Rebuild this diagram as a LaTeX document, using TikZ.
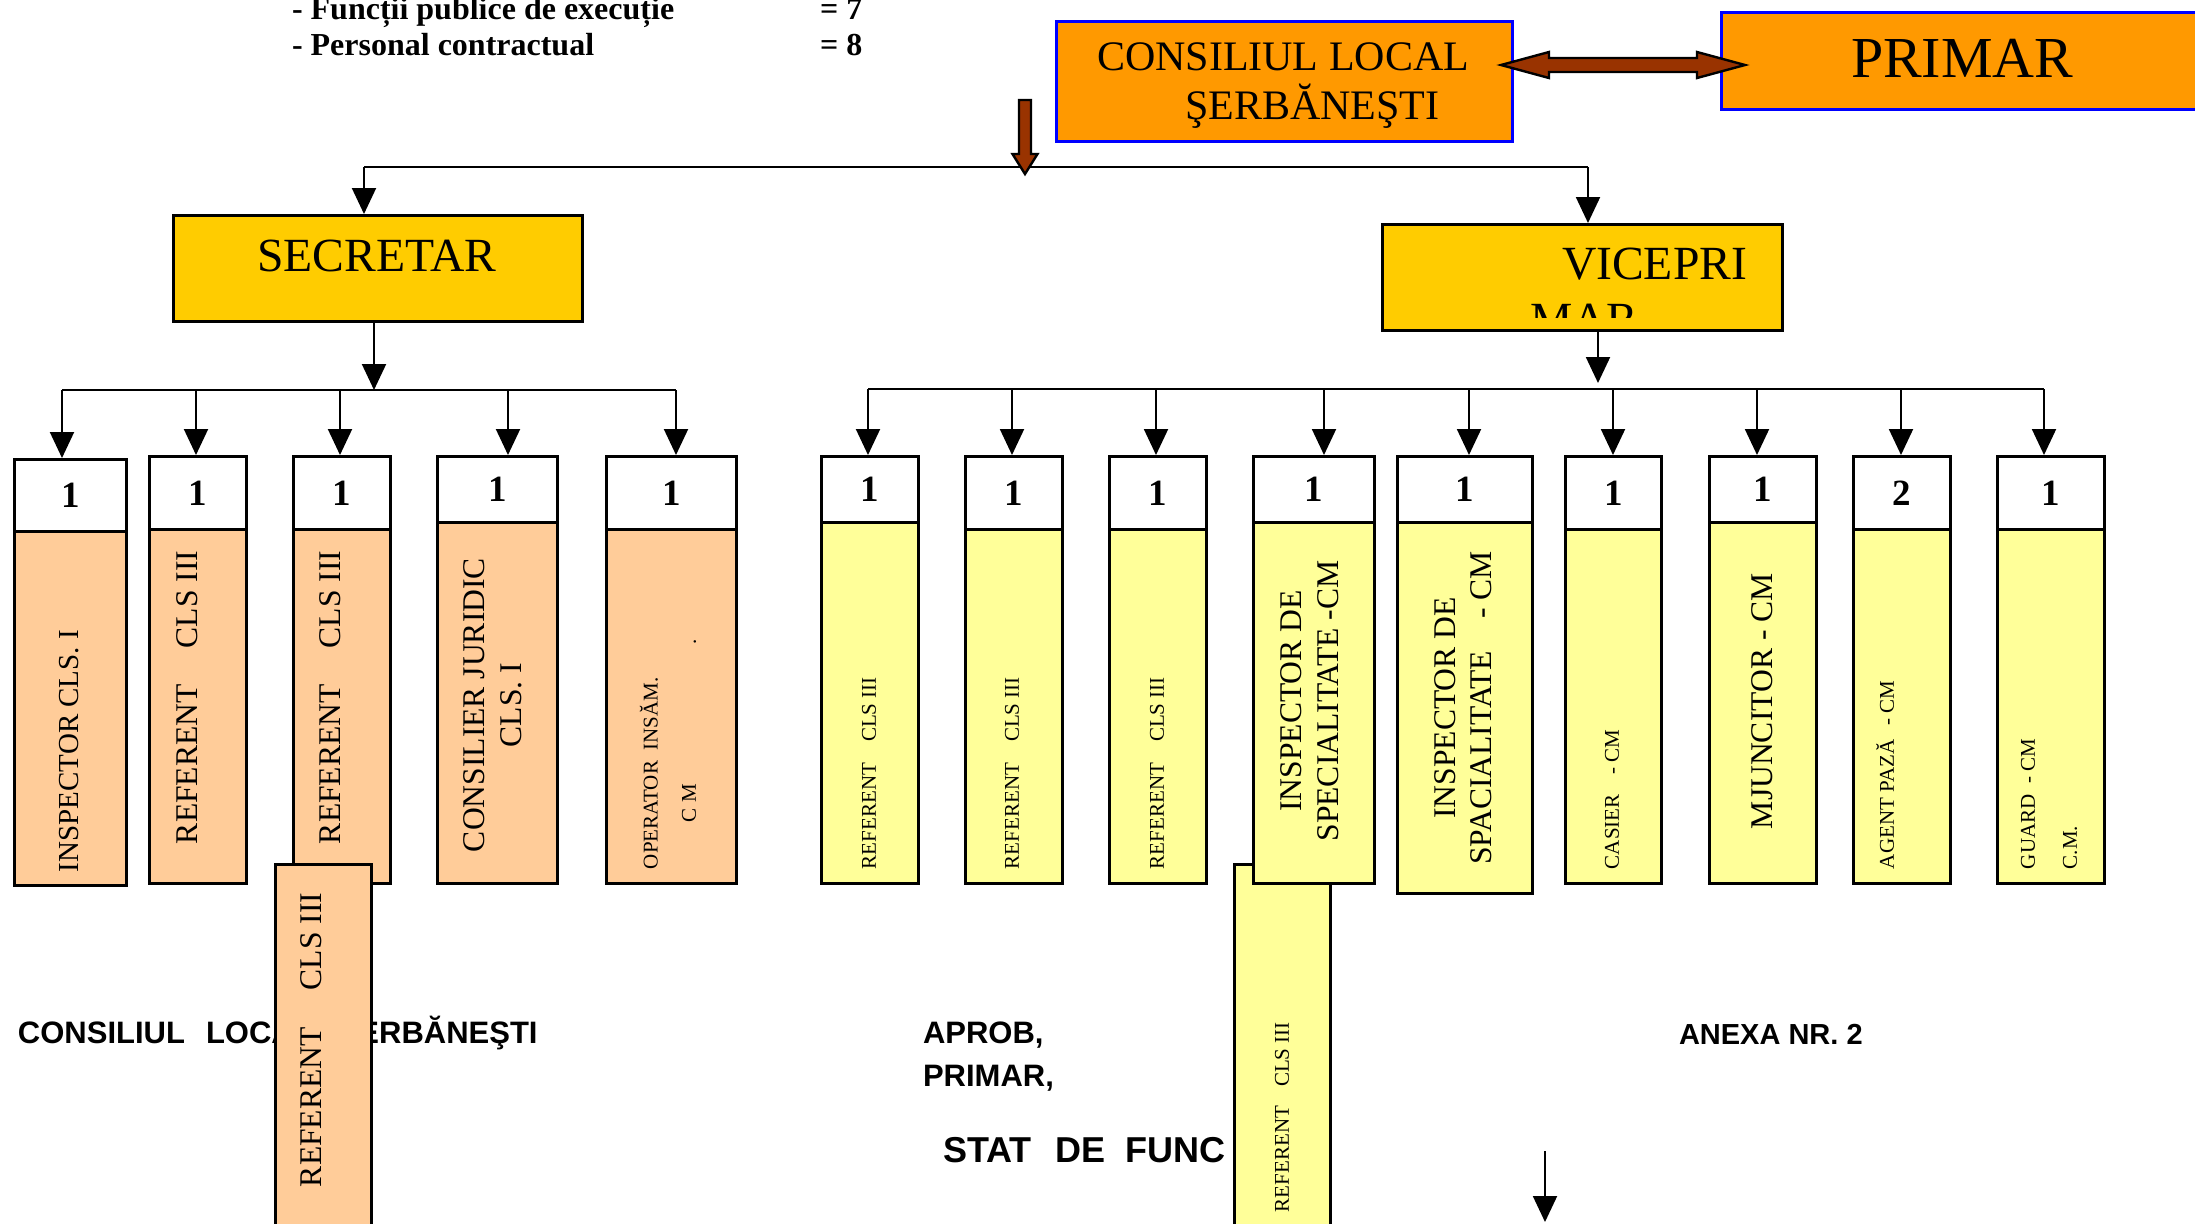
\documentclass[tikz,border=0pt]{standalone}
\usepackage{fontspec}
\setmainfont{Liberation Serif}
\setsansfont{Liberation Sans}
\usetikzlibrary{arrows.meta}

\tikzset{every picture/.style={line width=0.5pt}}
\tikzset{
	arr/.style={-{Triangle[width=6pt,length=6.5pt]}},
	brownarrow/.style={draw=black, line width=0.6pt, fill={rgb, 255:red, 153; green, 51; blue, 0 }},
	headbox/.style={draw, color={rgb, 255:red, 0; green, 0; blue, 255 }, fill={rgb, 255:red, 255; green, 153; blue, 0 }, line width=0.7pt, inner sep=0pt, anchor=north west},
	chiefbox/.style={draw, fill={rgb, 255:red, 255; green, 204; blue, 0 }, line width=0.75pt, inner sep=0pt, anchor=north west},
	numbox/.style={draw, fill=white, line width=0.75pt, inner sep=0pt, anchor=north west, font=\fontsize{9.25}{9.25}\selectfont\bfseries},
	peachbox/.style={draw, fill={rgb, 255:red, 255; green, 204; blue, 153 }, line width=0.75pt, inner sep=0pt, anchor=north west},
	lemonbox/.style={draw, fill={rgb, 255:red, 255; green, 255; blue, 153 }, line width=0.75pt, inner sep=0pt, anchor=north west},
	hdrtxt/.style={anchor=base west, inner sep=0pt, font=\fontsize{8}{9.6}\selectfont\bfseries},
	captxt/.style={anchor=base west, inner sep=0pt, font=\fontsize{#1}{#1}\selectfont},
	foottxt/.style={anchor=base west, inner sep=0pt, font=\sffamily\bfseries\fontsize{#1}{#1}\selectfont},
	foottxt/.default=7.75,
	bigtxt/.style={rotate=90, anchor=west, inner sep=0pt, font=\fontsize{#1}{9.25}\selectfont},
	bigtxt/.default=7.9,
	smalltxt/.style={rotate=90, anchor=west, inner sep=0pt, font=\fontsize{5.25}{6.3}\selectfont}
}

\begin{document}
\begin{tikzpicture}[x=0.25pt,y=0.25pt,yscale=-1]
	\useasboundingbox (0,0) rectangle (2195,1223);
	
	% Text Node
	\node [hdrtxt] (fpe) at (291,19) {- Funcții publice de execuție};
	\node [hdrtxt] (pc) at (291,55) {- Personal contractual};
	\node [hdrtxt] (eqa) at (819,19) {= 7};
	\node [hdrtxt] (eqb) at (819,55) {= 8};
	
	% Text Node
	\node [foottxt] (clfoot) at (17,1043) {CONSILIUL\hspace{5.25pt}LOCAL\hspace{6.25pt}ŞERBĂNEŞTI};
	\node [foottxt] (aprob) at (922,1043) {APROB,};
	\node [foottxt] (primfoot) at (922,1086) {PRIMAR,};
	\node [foottxt=9] (stat) at (942,1162) {STAT\hspace{6pt}DE\hspace{5pt}FUNC};
	\node [foottxt=7.25] (anexa) at (1678,1044) {ANEXA NR. 2};
	
	%Shape: Rectangle
	\node [headbox, minimum width=114pt, minimum height=30pt] (cl) at (1055,20) {};
	\node [headbox, minimum width=119.5pt, minimum height=24.25pt] (pr) at (1720,11) {};
	\node [chiefbox, minimum width=102.25pt, minimum height=26.5pt] (sec) at (172,214) {};
	\node [chiefbox, minimum width=100pt, minimum height=26.5pt] (vice) at (1381,223) {};
	
	% Text Node
	\node [captxt=10.5] (cltxta) at (1096,70) {CONSILIUL LOCAL};
	\node [captxt=10.5] (cltxtb) at (1184,119) {ŞERBĂNEŞTI};
	\node [captxt=14.5] (prtxt) at (1850,77) {PRIMAR};
	\node [captxt=11.9] (sectxt) at (256,271) {SECRETAR};
	\node [captxt=11.9] (vicetxta) at (1561,279) {VICEPRI};
	\begin{scope}
		\clip (1381,223) rectangle (1781,317);
		\node [captxt=11.9] (vicetxtb) at (1529,335) {MAR};
	\end{scope}
	
	%Double arrow: council - mayor
	\draw [brownarrow] (1501,65) -- (1549,52) -- (1549,58) -- (1697,58) -- (1697,52) -- (1745,65) -- (1697,78) -- (1697,72) -- (1549,72) -- (1549,78) -- cycle;
	
	%Straight Lines
	\coordinate (busL) at (364,167);
	\coordinate (busR) at (1588,167);
	\draw (busL) -- (busR);
	\draw [arr] (busL) -- (busL |- sec.north);
	\draw [arr] (busR) -- (busR |- vice.north);
	
	%Block arrow down
	\draw [brownarrow] (1019,100) -- (1031,100) -- (1031,154) -- (1037.5,154) -- (1025,174) -- (1012.5,154) -- (1019,154) -- cycle;
	
	%Shape: Rectangle (extra, behind)
	\node [lemonbox, minimum width=24pt, minimum height=92pt] (rx) at (1233,863) {};
	\node [smalltxt] (rxt) at (1282,1213) {REFERENT\hspace{4.75pt}CLS III};
	
	%Left group
	\node [numbox, minimum width=28pt, minimum height=18pt] (l1n) at (13,458) {1};
	\node [peachbox, minimum width=28pt, minimum height=88.5pt] (l1c) at (13,530) {};
	\node [numbox, minimum width=24.25pt, minimum height=18.25pt] (l2n) at (148,455) {1};
	\node [peachbox, minimum width=24.25pt, minimum height=88.5pt] (l2c) at (148,528) {};
	\node [numbox, minimum width=24.25pt, minimum height=18.25pt] (l3n) at (292,455) {1};
	\node [peachbox, minimum width=24.25pt, minimum height=88.5pt] (l3c) at (292,528) {};
	\node [numbox, minimum width=30pt, minimum height=16.5pt] (l4n) at (436,455) {1};
	\node [peachbox, minimum width=30pt, minimum height=90.25pt] (l4c) at (436,521) {};
	\node [numbox, minimum width=32.5pt, minimum height=18.25pt] (l5n) at (605,455) {1};
	\node [peachbox, minimum width=32.5pt, minimum height=88.5pt] (l5c) at (605,528) {};
	
	% Text Node
	\node [bigtxt=7.25] (l1t) at (69,873) {INSPECTOR CLS. I};
	\node [bigtxt] (l2t) at (187,845) {REFERENT\hspace{9pt}CLS III};
	\node [bigtxt] (l3t) at (330,845) {REFERENT\hspace{9pt}CLS III};
	\node [bigtxt, anchor=center, align=center] (l4t) at (493,705) {CONSILIER JURIDIC\\CLS. I};
	\node [smalltxt] (l5ta) at (649,870) {OPERATOR~~INSĂM.};
	\node [smalltxt] (l5tb) at (689,823) {C M\hspace{35pt}.};
	
	%Shape: Rectangle (extra, in front)
	\node [peachbox, minimum width=24pt, minimum height=92pt] (lx) at (274,863) {};
	\node [bigtxt] (lxt) at (311,1188) {REFERENT\hspace{9.25pt}CLS III};
	
	%Right group
	\node [numbox, minimum width=24.25pt, minimum height=16.5pt] (r1n) at (820,455) {1};
	\node [lemonbox, minimum width=24.25pt, minimum height=90.25pt] (r1c) at (820,521) {};
	\node [numbox, minimum width=24.25pt, minimum height=18.25pt] (r2n) at (964,455) {1};
	\node [lemonbox, minimum width=24.25pt, minimum height=88.5pt] (r2c) at (964,528) {};
	\node [numbox, minimum width=24.25pt, minimum height=18.25pt] (r3n) at (1108,455) {1};
	\node [lemonbox, minimum width=24.25pt, minimum height=88.5pt] (r3c) at (1108,528) {};
	\node [numbox, minimum width=30.25pt, minimum height=16.5pt] (r4n) at (1252,455) {1};
	\node [lemonbox, minimum width=30.25pt, minimum height=90.25pt] (r4c) at (1252,521) {};
	\node [numbox, minimum width=33.75pt, minimum height=16.5pt] (r5n) at (1396,455) {1};
	\node [lemonbox, minimum width=33.75pt, minimum height=92.75pt] (r5c) at (1396,521) {};
	\node [numbox, minimum width=24pt, minimum height=18.25pt] (r6n) at (1564,455) {1};
	\node [lemonbox, minimum width=24pt, minimum height=88.5pt] (r6c) at (1564,528) {};
	\node [numbox, minimum width=26.75pt, minimum height=16.5pt] (r7n) at (1708,455) {1};
	\node [lemonbox, minimum width=26.75pt, minimum height=90.25pt] (r7c) at (1708,521) {};
	\node [numbox, minimum width=24.25pt, minimum height=18.25pt] (r8n) at (1852,455) {2};
	\node [lemonbox, minimum width=24.25pt, minimum height=88.5pt] (r8c) at (1852,528) {};
	\node [numbox, minimum width=26.75pt, minimum height=18.25pt] (r9n) at (1996,455) {1};
	\node [lemonbox, minimum width=26.75pt, minimum height=88.5pt] (r9c) at (1996,528) {};
	
	% Text Node
	\node [smalltxt] (r1t) at (869,870) {REFERENT\hspace{5.25pt}CLS III};
	\node [smalltxt] (r2t) at (1012,870) {REFERENT\hspace{5.25pt}CLS III};
	\node [smalltxt] (r3t) at (1157,870) {REFERENT\hspace{5.25pt}CLS III};
	\node [bigtxt, anchor=center, align=center] (r4t) at (1309.5,701) {INSPECTOR DE\\SPECIALITATE -CM};
	\node [bigtxt, anchor=center, align=center, font=\fontsize{7.9}{9}\selectfont] (r5t) at (1463,708) {INSPECTOR DE\\SPACIALITATE\hspace{8pt}- CM};
	\node [smalltxt] (r6t) at (1612,870) {CASIER\hspace{5pt}- CM};
	\node [bigtxt] (r7t) at (1762,830) {MJUNCITOR - CM};
	\node [smalltxt] (r8t) at (1885,870) {AGENT PAZĂ\hspace{3.5pt}- CM};
	\node [smalltxt, align=left, font=\fontsize{5.25}{10.5}\selectfont] (r9t) at (2049,870) {GUARD~~- CM\\C.M.};
	
	%Straight Lines: secretary branch
	\coordinate (sbus) at (374,390);
	\draw [arr] (sec.south -| sbus) -- (sbus);
	\coordinate (dl1) at (62,390);
	\coordinate (dl2) at (196,390);
	\coordinate (dl3) at (340,390);
	\coordinate (dl4) at (508,390);
	\coordinate (dl5) at (676,390);
	\draw (dl1) -- (dl5);
	\draw [arr] (dl1) -- (dl1 |- l1n.north);
	\draw [arr] (dl2) -- (dl2 |- l2n.north);
	\draw [arr] (dl3) -- (dl3 |- l3n.north);
	\draw [arr] (dl4) -- (dl4 |- l4n.north);
	\draw [arr] (dl5) -- (dl5 |- l5n.north);
	
	%Straight Lines: vice-mayor branch
	\coordinate (vbus) at (1598,383);
	\draw [arr] (vice.south -| vbus) -- (vbus);
	\coordinate (dr1) at (868,389);
	\coordinate (dr2) at (1012,389);
	\coordinate (dr3) at (1156,389);
	\coordinate (dr4) at (1324,389);
	\coordinate (dr5) at (1469,389);
	\coordinate (dr6) at (1613,389);
	\coordinate (dr7) at (1757,389);
	\coordinate (dr8) at (1901,389);
	\coordinate (dr9) at (2044,389);
	\draw (dr1) -- (dr9);
	\draw [arr] (dr1) -- (dr1 |- r1n.north);
	\draw [arr] (dr2) -- (dr2 |- r2n.north);
	\draw [arr] (dr3) -- (dr3 |- r3n.north);
	\draw [arr] (dr4) -- (dr4 |- r4n.north);
	\draw [arr] (dr5) -- (dr5 |- r5n.north);
	\draw [arr] (dr6) -- (dr6 |- r6n.north);
	\draw [arr] (dr7) -- (dr7 |- r7n.north);
	\draw [arr] (dr8) -- (dr8 |- r8n.north);
	\draw [arr] (dr9) -- (dr9 |- r9n.north);
	
	%Straight Lines: loose arrow
	\coordinate (fa) at (1545,1151);
	\coordinate (fb) at (1545,1222);
	\draw [arr] (fa) -- (fb);
	
\end{tikzpicture}
\end{document}
